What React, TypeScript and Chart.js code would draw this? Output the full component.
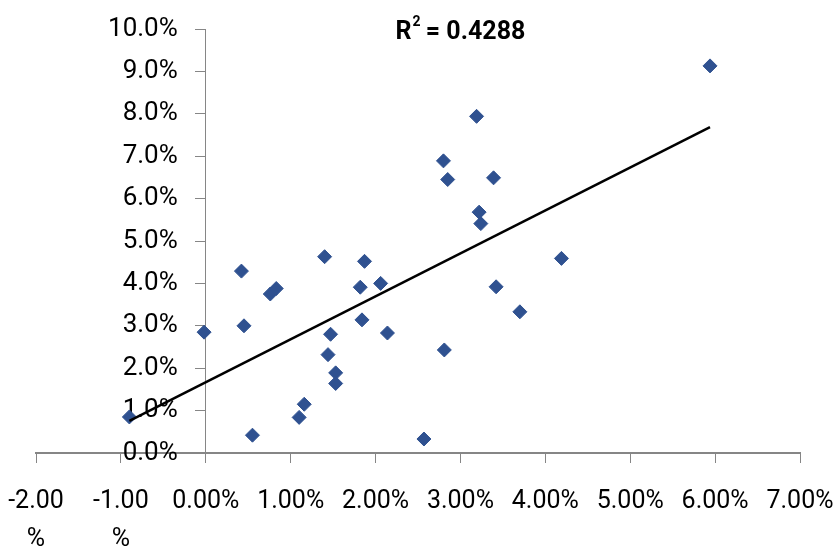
import { useEffect, useRef } from 'react';
import { Chart, registerables } from 'chart.js';

Chart.register(...registerables);

// Data (values in percent)
const xValues = [
  -0.9, -0.02, 0.42, 0.45, 0.55, 0.76, 0.83, 1.10, 1.16, 1.40, 1.47,
  1.44, 1.53, 1.53, 1.87, 1.82, 1.84, 2.06, 2.14, 2.57, 5.94, 3.19,
  2.80, 2.85, 3.39, 3.22, 3.24, 4.19, 3.42, 3.70, 2.81,
];
const yValues = [
  0.85, 2.85, 4.29, 3.00, 0.42, 3.75, 3.88, 0.84, 1.15, 4.63, 2.80,
  2.32, 1.89, 1.64, 4.52, 3.91, 3.14, 4.00, 2.83, 0.33, 9.13, 7.94,
  6.89, 6.45, 6.49, 5.68, 5.41, 4.59, 3.92, 3.33, 2.43,
];
const xTickValues = [-2, -1, 0, 1, 2, 3, 4, 5, 6, 7];
const yTickValues = [0, 1, 2, 3, 4, 5, 6, 7, 8, 9, 10];
const rLabelMain = 'R';
const rLabelSup = '2';
const rLabelRest = ' = 0.4288';
const rLabelAtX = 3.0;
const yAxisAtX = 0;
const yLabelsAtX = -0.33;

const FONT = "Roboto, 'DejaVu Sans Condensed', sans-serif";
const MARKER = '#2F5190';
const AXIS = '#868686';

function regression(xs: number[], ys: number[]) {
  const n = xs.length;
  const mx = xs.reduce((a, b) => a + b, 0) / n;
  const my = ys.reduce((a, b) => a + b, 0) / n;
  let sxy = 0;
  let sxx = 0;
  for (let i = 0; i < n; i++) {
    sxy += (xs[i] - mx) * (ys[i] - my);
    sxx += (xs[i] - mx) * (xs[i] - mx);
  }
  const slope = sxy / sxx;
  return { slope, intercept: my - slope * mx };
}

const rLabelPlugin = {
  id: 'rLabel',
  afterDraw(chart: any) {
    const { ctx } = chart;
    const xs = chart.scales.x;
    ctx.save();
    ctx.fillStyle = '#000';
    ctx.textBaseline = 'alphabetic';
    const mainFont = `bold 25px ${FONT}`;
    const supFont = `bold 14px ${FONT}`;
    ctx.font = mainFont;
    const wR = ctx.measureText(rLabelMain).width;
    const wRest = ctx.measureText(rLabelRest).width;
    ctx.font = supFont;
    const wSup = ctx.measureText(rLabelSup).width;
    const total = wR + wSup + wRest;
    const cx = xs.getPixelForValue(rLabelAtX);
    let x = cx - total / 2;
    const base = 39;
    ctx.textAlign = 'left';
    ctx.font = mainFont;
    ctx.fillText(rLabelMain, x, base);
    x += wR;
    ctx.font = supFont;
    ctx.fillText(rLabelSup, x + 1, base - 13);
    x += wSup;
    ctx.font = mainFont;
    ctx.fillText(rLabelRest, x, base);
    ctx.restore();
  },
};

export default function App() {
  const ref = useRef<HTMLCanvasElement | null>(null);

  useEffect(() => {
    document.body.style.margin = '0';
    if (!ref.current) return;
    const points = xValues.map((x, i) => ({ x, y: yValues[i] }));
    const { slope, intercept } = regression(xValues, yValues);
    const minX = Math.min(...xValues);
    const maxX = Math.max(...xValues);
    const trend = [
      { x: minX, y: intercept + slope * minX },
      { x: maxX, y: intercept + slope * maxX },
    ];
    const yTicksSetter = (scale: any) => {
      scale.ticks = yTickValues.map((v) => ({ value: v }));
    };

    const chart = new Chart(ref.current, {
      type: 'scatter',
      data: {
        datasets: [
          {
            type: 'line',
            data: trend,
            borderColor: '#000',
            borderWidth: 2.5,
            pointRadius: 0,
            fill: false,
            order: 0,
          },
          {
            data: points,
            backgroundColor: MARKER,
            borderColor: MARKER,
            borderWidth: 1,
            pointStyle: 'rectRot',
            pointRadius: 7,
            order: 1,
          },
        ],
      },
      options: {
        animation: false,
        responsive: false,
        maintainAspectRatio: false,
        layout: { padding: { left: 36, right: 34, top: 29, bottom: 0 } },
        plugins: {
          legend: { display: false },
          tooltip: { enabled: false },
          title: { display: false },
        },
        scales: {
          x: {
            type: 'linear',
            position: 'bottom',
            min: -2,
            max: 7,
            afterBuildTicks: (scale: any) => {
              scale.ticks = xTickValues.map((v) => ({ value: v }));
            },
            afterFit: (scale: any) => {
              scale.height = 97;
              scale.paddingLeft = 0;
              scale.paddingRight = 0;
            },
            grid: {
              drawOnChartArea: false,
              drawTicks: true,
              tickLength: 10,
              color: AXIS,
              lineWidth: 1,
            },
            border: { display: true, color: AXIS, width: 2 },
            ticks: {
              color: '#000',
              padding: 20,
              maxRotation: 0,
              autoSkip: false,
              font: { family: FONT, size: 25, lineHeight: '38px' },
              callback: (v: any) => {
                const n = Number(v);
                const s = n.toFixed(2);
                return n < 0 ? [s, '%'] : s + '%';
              },
            },
          },
          y: {
            type: 'linear',
            position: { x: yAxisAtX } as any,
            min: 0,
            max: 10,
            afterBuildTicks: yTicksSetter,
            grid: {
              drawOnChartArea: false,
              drawTicks: true,
              tickLength: 10,
              color: AXIS,
              lineWidth: 1,
            },
            border: { display: true, color: AXIS, width: 1 },
            ticks: { display: false },
          },
          yLabels: {
            type: 'linear',
            position: { x: yLabelsAtX } as any,
            min: 0,
            max: 10,
            afterBuildTicks: yTicksSetter,
            grid: { display: false, drawTicks: false },
            border: { display: false },
            ticks: {
              color: '#000',
              autoSkip: false,
              font: { family: FONT, size: 26 },
              callback: (v: any) => Number(v).toFixed(1) + '%',
            },
          },
        },
      },
      plugins: [rLabelPlugin],
    });
    return () => chart.destroy();
  }, []);

  return <canvas ref={ref} width={834} height={550} style={{ display: 'block' }} />;
}
